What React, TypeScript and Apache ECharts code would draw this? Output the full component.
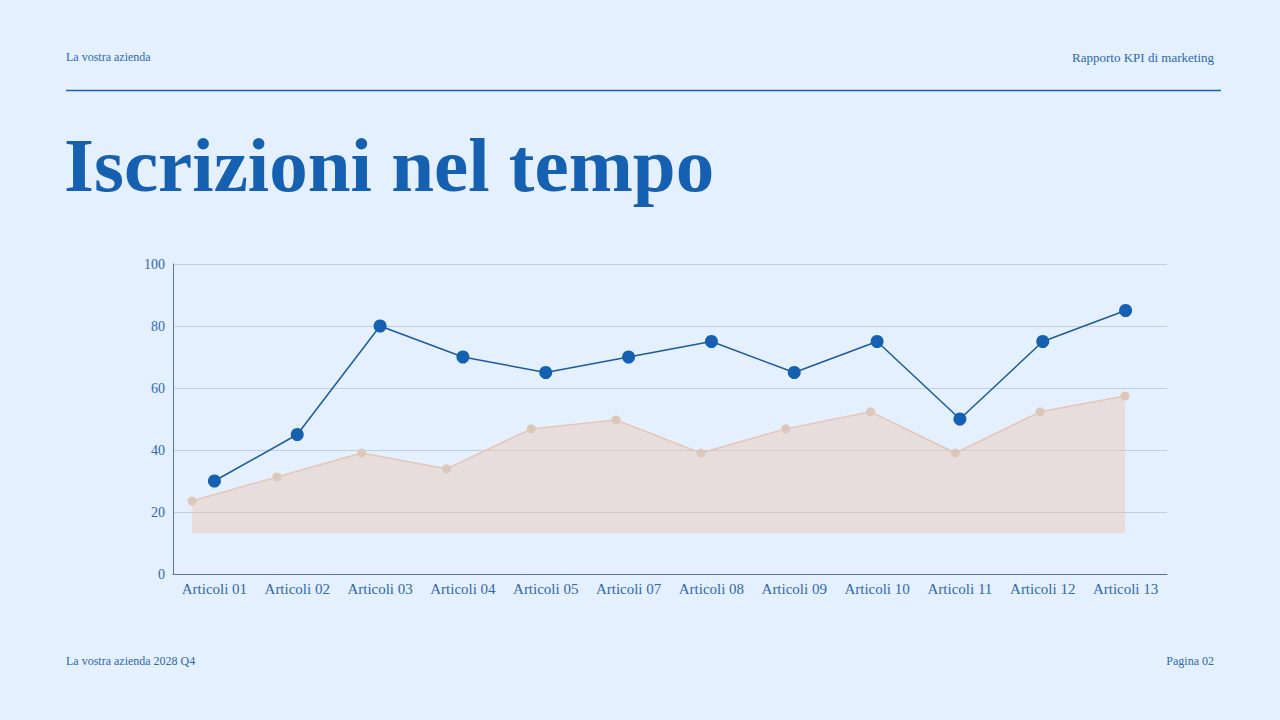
import React, { useEffect, useRef } from 'react';
import * as echarts from 'echarts';

const categories = [
  'Articoli 01', 'Articoli 02', 'Articoli 03', 'Articoli 04', 'Articoli 05', 'Articoli 07',
  'Articoli 08', 'Articoli 09', 'Articoli 10', 'Articoli 11', 'Articoli 12', 'Articoli 13',
];
const iscrizioni = [30, 45, 80, 70, 65, 70, 75, 65, 75, 50, 75, 85];
const confronto = [23.5, 31.3, 39, 33.9, 46.8, 49.7, 39, 46.8, 52.3, 39, 52.3, 57.4];
// the shaded area starts at this value, not at zero
const areaBase = 13.2;

const BLUE = '#1560b0';
const TEXT = '#2f68ad';
const FONT = '"Liberation Serif", "DejaVu Serif", serif';

const App: React.FC = () => {
  const chartRef = useRef<HTMLDivElement>(null);

  useEffect(() => {
    if (!chartRef.current) return;
    document.body.style.margin = '0';
    const chart = echarts.init(chartRef.current, undefined, { renderer: 'svg' });

    const option: echarts.EChartsOption = {
      animation: false,
      backgroundColor: '#e4f0fd',
      textStyle: { fontFamily: FONT },
      graphic: [
        { type: 'text', left: 66, top: 51, style: { text: 'La vostra azienda', fill: TEXT, fontSize: 12, fontFamily: FONT } },
        { type: 'text', right: 66, top: 51, style: { text: 'Rapporto KPI di marketing', fill: TEXT, fontSize: 13, fontFamily: FONT } },
        { type: 'line', shape: { x1: 66, y1: 90.5, x2: 1221, y2: 90.5 }, style: { stroke: BLUE, lineWidth: 1.5 } },
        { type: 'text', left: 64, top: 126, style: { text: 'Iscrizioni nel tempo', fill: BLUE, fontSize: 77, fontWeight: 'bold', fontFamily: FONT } },
        { type: 'text', left: 66, top: 655, style: { text: 'La vostra azienda 2028 Q4', fill: TEXT, fontSize: 12, fontFamily: FONT } },
        { type: 'text', right: 66, top: 655, style: { text: 'Pagina 02', fill: TEXT, fontSize: 12, fontFamily: FONT } },
      ],
      grid: [
        { left: 173, right: 113, top: 264, bottom: 146 },
        { left: 192, right: 155, top: 264, bottom: 187 },
      ],
      xAxis: [
        {
          type: 'category',
          gridIndex: 0,
          data: categories,
          boundaryGap: true,
          axisLine: { lineStyle: { color: '#5b7394' } },
          axisTick: { show: false },
          axisLabel: { color: TEXT, fontSize: 15, margin: 7, interval: 0, fontFamily: FONT },
        },
        {
          type: 'category',
          gridIndex: 1,
          data: categories,
          boundaryGap: false,
          show: false,
        },
      ],
      yAxis: [
        {
          type: 'value',
          gridIndex: 0,
          min: 0,
          max: 100,
          interval: 20,
          axisLine: { show: true, lineStyle: { color: '#5b7394' } },
          axisTick: { show: false },
          axisLabel: { color: TEXT, fontSize: 14, margin: 8, fontFamily: FONT },
          splitLine: { lineStyle: { color: '#c3cedd' } },
        },
        {
          type: 'value',
          gridIndex: 1,
          min: areaBase,
          max: 100,
          show: false,
          splitLine: { show: false },
        },
      ],
      series: [
        {
          name: 'Confronto',
          type: 'line',
          xAxisIndex: 1,
          yAxisIndex: 1,
          data: confronto,
          symbol: 'circle',
          symbolSize: 9,
          itemStyle: { color: '#dcc8ba' },
          lineStyle: { color: '#e6c5b5', width: 1.5 },
          areaStyle: { color: 'rgba(238, 196, 176, 0.6)', origin: 'start' },
          z: 2,
        },
        {
          name: 'Iscrizioni',
          type: 'line',
          data: iscrizioni,
          symbol: 'circle',
          symbolSize: 13,
          itemStyle: { color: BLUE },
          lineStyle: { color: '#1d5a9c', width: 1.5 },
          z: 3,
        },
      ],
    };

    chart.setOption(option);
    return () => {
      chart.dispose();
    };
  }, []);

  return <div ref={chartRef} style={{ width: '1280px', height: '720px' }} />;
};

export default App;
